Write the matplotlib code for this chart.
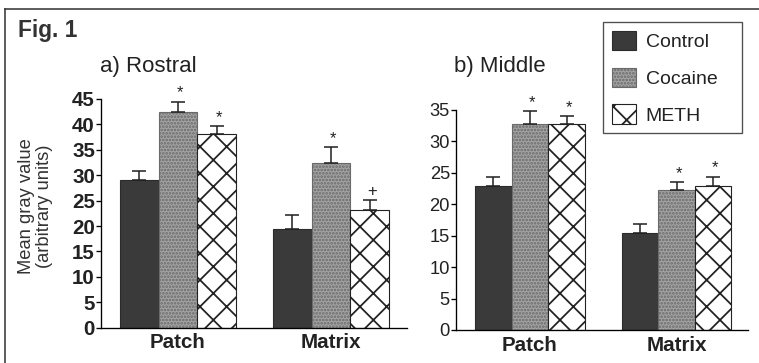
import numpy as np
import matplotlib
matplotlib.use("Agg")
import matplotlib.pyplot as plt
from matplotlib.lines import Line2D

# ------------------------------------------------------------
# Data
# ------------------------------------------------------------
regions = ["Patch", "Matrix"]
groups = ["Control", "Cocaine", "METH"]

rostral_control = [29.0, 19.5]
rostral_cocaine = [42.4, 32.4]
rostral_meth = [38.2, 23.1]
rostral_control_err = [1.8, 2.6]
rostral_cocaine_err = [2.1, 3.1]
rostral_meth_err = [1.5, 2.1]
rostral_marks = [["", "*", "*"], ["", "*", "+"]]

middle_control = [22.9, 15.5]
middle_cocaine = [32.7, 22.3]
middle_meth = [32.7, 22.9]
middle_control_err = [1.4, 1.4]
middle_cocaine_err = [2.1, 1.2]
middle_meth_err = [1.3, 1.5]
middle_marks = [["", "*", "*"], ["", "*", "*"]]

# ------------------------------------------------------------
# Style
# ------------------------------------------------------------
plt.rcParams["font.family"] = ["Liberation Sans", "DejaVu Sans"]
plt.rcParams["hatch.linewidth"] = 1.6

W, H, DPI = 759, 363, 80

styles = {
    "Control": dict(facecolor="#3a3a3a", edgecolor="#2b2b2b", hatch=None),
    "Cocaine": dict(facecolor="#a3a3a3", edgecolor="#6a6a6a", hatch="...."),
    "METH": dict(facecolor="white", edgecolor="#222222", hatch="x"),
}


def draw_panel(ax, values, errs, marks, width, tick_weight, tick_size):
    x = np.arange(len(regions))
    offsets = [-width, 0.0, width]
    bars = []
    for g, vals, err, off in zip(groups, values, errs, offsets):
        st = styles[g]
        b = ax.bar(x + off, vals, width, facecolor=st["facecolor"],
                   edgecolor=st["edgecolor"], hatch=st["hatch"],
                   linewidth=1.0, label=g, zorder=2)
        ax.errorbar(x + off, vals, yerr=[np.zeros(len(vals)), err],
                    fmt="none", ecolor="#222222", elinewidth=1.4,
                    capsize=6, capthick=1.4, zorder=3)
        bars.append(b)

    # significance marks
    for gi, off in enumerate(offsets):
        for ri in range(len(regions)):
            m = marks[ri][gi]
            if not m:
                continue
            top = values[gi][ri] + errs[gi][ri]
            ax.annotate(m, (x[ri] + off, top), xytext=(2, 1),
                        textcoords="offset points", ha="center",
                        va="bottom", fontsize=15, color="#222222")

    for s in ["top", "right"]:
        ax.spines[s].set_visible(False)
    ax.spines["left"].set_linewidth(1.2)
    ax.spines["bottom"].set_linewidth(1.2)
    ax.set_xticks(x)
    ax.set_xticklabels(regions, fontsize=18.5, fontweight="bold",
                       color="#222222")
    ax.tick_params(axis="x", length=0, pad=5)
    ax.tick_params(axis="y", length=4.5, width=1.2, pad=1,
                   labelsize=tick_size, labelcolor="#222222")
    for lab in ax.get_yticklabels():
        lab.set_fontweight(tick_weight)
    return bars


fig = plt.figure(figsize=(W / DPI, H / DPI), dpi=DPI)

# a) Rostral
ax1 = fig.add_axes([101 / W, 1 - 327.7 / H, 306 / W, 228.7 / H])
ax1.set_xlim(-0.503, 1.497)
ax1.set_ylim(0, 45)
ax1.set_yticks(np.arange(0, 46, 5))
handles = draw_panel(ax1,
                     [rostral_control, rostral_cocaine, rostral_meth],
                     [rostral_control_err, rostral_cocaine_err, rostral_meth_err],
                     rostral_marks, 0.253, "bold", 18.5)
ax1.set_ylabel("Mean gray value\n(arbitrary units)", fontsize=16.5,
               color="#333333", linespacing=1.05)
ax1.yaxis.set_label_coords(-0.157, 0.53)

# b) Middle
ax2 = fig.add_axes([456 / W, 1 - 330 / H, 292 / W, 220 / H])
ax2.set_xlim(-0.505, 1.488)
ax2.set_ylim(0, 35)
ax2.set_yticks(np.arange(0, 36, 5))
draw_panel(ax2,
           [middle_control, middle_cocaine, middle_meth],
           [middle_control_err, middle_cocaine_err, middle_meth_err],
           middle_marks, 0.25, "normal", 16.5)

# titles
fig.text(18 / W, 1 - 37 / H, "Fig. 1", fontsize=20.5, fontweight="bold",
         color="#333333", va="baseline")
fig.text(100 / W, 1 - 72 / H, "a) Rostral", fontsize=20,
         color="#222222", va="baseline")
fig.text(454 / W, 1 - 72 / H, "b) Middle", fontsize=20,
         color="#222222", va="baseline")

# legend
leg = fig.legend(handles=handles, labels=groups, loc="upper left",
                 bbox_to_anchor=(603 / W, 1 - 134 / H, 139 / W, 112 / H),
                 mode="expand", borderaxespad=0,
                 fontsize=17.5, frameon=True, fancybox=False,
                 handlelength=1.25, handleheight=1.15, handletextpad=0.5,
                 labelspacing=0.85, borderpad=0.45)
leg.get_frame().set_edgecolor("#222222")
leg.get_frame().set_linewidth(1.2)
for t in leg.get_texts():
    t.set_color("#222222")

# outer frame (left and top edges visible in the scan)
fig.add_artist(Line2D([4.5 / W, 4.5 / W], [0, 1 - 9 / H],
                      transform=fig.transFigure, color="#333333", lw=1.4))
fig.add_artist(Line2D([4.5 / W, 1], [1 - 9 / H, 1 - 9 / H],
                      transform=fig.transFigure, color="#333333", lw=1.4))

fig.savefig("out.png", dpi=DPI)
